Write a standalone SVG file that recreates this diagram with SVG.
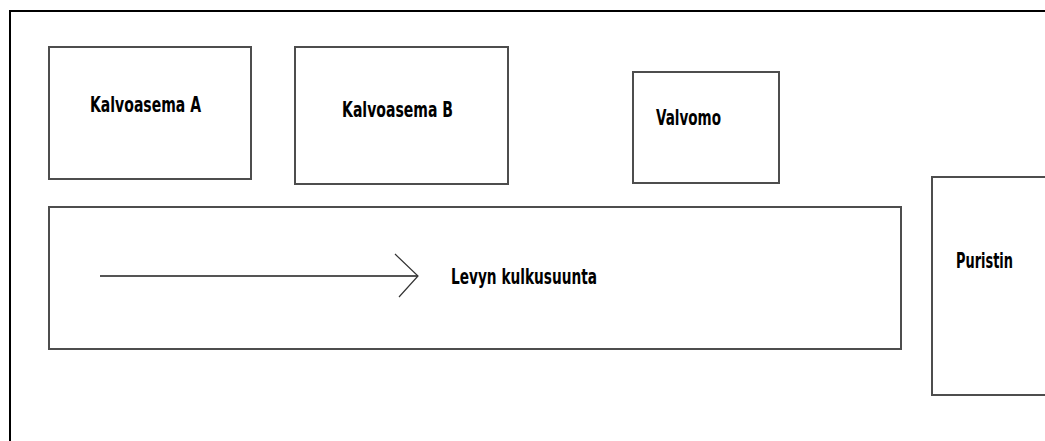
<svg xmlns="http://www.w3.org/2000/svg" width="1045" height="441" viewBox="0 0 1045 441">
  <style>
    .box { fill: #ffffff; stroke: #4d4d4d; stroke-width: 2; }
    .lbl { font-family: "Liberation Sans Narrow", "DejaVu Sans Condensed", "Liberation Sans", sans-serif; font-weight: bold; font-size: 22px; fill: #000000; }
    .conn { fill: none; stroke: #555555; stroke-width: 2; }
    .head { fill: none; stroke: #333333; stroke-width: 1.2; }
  </style>
  <rect x="0" y="0" width="1045" height="441" fill="#ffffff"/>
  <g id="frame">
    <rect x="10" y="11" width="1100" height="500" fill="none" stroke="#000000" stroke-width="2"/>
  </g>
  <g id="kalvoasema-a">
    <rect class="box" x="49" y="47" width="202" height="132"/>
    <text class="lbl" x="90" y="112" textLength="111" lengthAdjust="spacingAndGlyphs">Kalvoasema A</text>
  </g>
  <g id="kalvoasema-b">
    <rect class="box" x="295" y="47" width="213" height="137"/>
    <text class="lbl" x="342" y="117" textLength="111" lengthAdjust="spacingAndGlyphs">Kalvoasema B</text>
  </g>
  <g id="valvomo">
    <rect class="box" x="633" y="72" width="146" height="111"/>
    <text class="lbl" x="656" y="125" textLength="65" lengthAdjust="spacingAndGlyphs">Valvomo</text>
  </g>
  <g id="linja">
    <rect class="box" x="49" y="207" width="852" height="142"/>
    <text class="lbl" x="451" y="284" textLength="146" lengthAdjust="spacingAndGlyphs">Levyn kulkusuunta</text>
  </g>
  <g id="puristin">
    <rect class="box" x="932" y="177" width="200" height="218"/>
    <text class="lbl" x="956" y="268" textLength="57" lengthAdjust="spacingAndGlyphs">Puristin</text>
  </g>
  <g id="connectors">
    <line class="conn" x1="100" y1="276" x2="418" y2="276"/>
    <polyline class="head" points="395,254 418,276 399,297"/>
  </g>
</svg>
